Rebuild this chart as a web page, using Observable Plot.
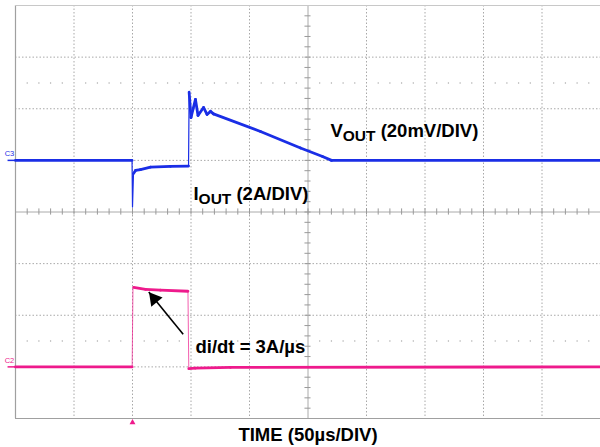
<!DOCTYPE html>
<html><head><meta charset="utf-8">
<script src="https://cdn.jsdelivr.net/npm/d3@7"></script>
<script src="https://cdn.jsdelivr.net/npm/@observablehq/plot@0.6"></script>
<style>body{margin:0;background:#fff}</style>
</head><body><div id="chart"></div>
<script>
// Time axis in microseconds (50 µs/div, trigger at 0)
const vTime = [-100, -0.4, 0, 0.85, 2.6, 6.8, 15.4, 32.5, 47.9, 48.4, 50.0, 53.8, 56.0, 60.7, 63.7, 66.7, 69.2, 109.4, 143.6, 162.4, 170.1, 400];
// VOUT deviation in mV (20 mV/div)
const vOut = [0, 0, -18.1, -5.1, -3.9, -3.6, -2.6, -2.3, -2.2, 26.4, 16.6, 23.6, 17.4, 20.5, 17.8, 19.0, 18.0, 11.2, 4.8, 1.5, 0, 0];
// IOUT in A (2 A/div)
const iTime = [-100, -0.3, 0.4, 1.0, 11.1, 23.9, 47.4, 48.1, 53.8, 83.8, 400];
const iOut = [0, 0, 3.07, 3.08, 3.0, 2.97, 2.93, -0.07, -0.05, -0.02, 0];

const xGrid = [-100, -50, 0, 50, 100, 150, 200, 250, 300, 350, 400];
const yGrid = [-4, -3, -2, -1, 0, 1, 2, 3, 4];
const chLabels = ["C3", "C2"];
const xLabel = "TIME (50µs/DIV)";
const annot = [
  {t: 169.2, d: 1.454, main: "V", sub: "OUT", rest: " (20mV/DIV)"},
  {t: 52.1, d: 0.225, main: "I", sub: "OUT", rest: " (2A/DIV)"},
  {t: 53.8, d: -2.73, main: "di/dt = 3A/µs", sub: "", rest: ""}
];
const arrowPts = [{x1: 43.3, y1: -2.37, x2: 13.9, y2: -1.55}];

const BLUE = "#1a2ee6", PINK = "#ee1a8c";
const FONT = "Liberation Sans, Arial, Helvetica, sans-serif";

// trace rows in divisions: blue offset +1 div, pink offset -3 div
const vRows = vTime.map((t, i) => ({t, d: 1 + vOut[i] / 20}));
const iRows = iTime.map((t, i) => ({t, d: -3 + iOut[i] / 2}));
function segs(rows) {
  const out = [];
  for (let i = 1; i < rows.length; i++) {
    if (rows[i].t - rows[i - 1].t < 1) continue; // steep edges drawn thin only
    out.push({x1: rows[i - 1].t, y1: rows[i - 1].d, x2: rows[i].t, y2: rows[i].d});
  }
  return out;
}

const minorX = d3.range(-100, 401, 10);
const minorY = d3.range(-4, 4.001, 0.2);
const dotRowX = minorX.filter(t => ((t % 50) + 50) % 50 !== 0);
const dotRows = [];
for (const d of [2.5, -2.5]) for (const t of dotRowX) dotRows.push({t, d});

const GRID = "#a8a8a8";

const chart = Plot.plot({
  width: 600, height: 447,
  marginLeft: 15, marginRight: 0, marginTop: 5, marginBottom: 29,
  style: {background: "#fff", fontFamily: FONT},
  x: {domain: [-100, 400], axis: null},
  y: {domain: [-4, 4], axis: null},
  marks: [
    Plot.ruleX(xGrid.filter(t => t !== 150 && t !== -100), {stroke: GRID, strokeDasharray: "1.5,2", strokeWidth: 1}),
    Plot.ruleY(yGrid.filter(d => d !== 0 && d !== -4 && d !== 4), {stroke: GRID, strokeDasharray: "1.5,2", strokeWidth: 1}),
    Plot.ruleX([150], {stroke: "#aaa", strokeWidth: 1}),
    Plot.ruleY([0], {stroke: "#aaa", strokeWidth: 1}),
    Plot.ruleX(minorX, {y1: -0.06, y2: 0.06, stroke: "#999"}),
    Plot.ruleY(minorY, {x1: 147.4, x2: 152.6, stroke: "#999"}),
    Plot.dot(dotRows, {x: "t", y: "d", r: 0.7, fill: "#aaa", stroke: null}),
    Plot.ruleX([-100], {stroke: "#a0a0a0", strokeWidth: 1.2}),
    Plot.ruleY([-4], {stroke: "#a0a0a0", strokeWidth: 1.2}),
    Plot.ruleY([4], {stroke: "#c8c8c8", strokeWidth: 1}),
    // traces
    Plot.line(vRows, {x: "t", y: "d", stroke: BLUE, strokeWidth: 1.2}),
    Plot.link(segs(vRows), {x1: "x1", y1: "y1", x2: "x2", y2: "y2", stroke: BLUE, strokeWidth: 2.8, strokeLinecap: "round"}),
    Plot.line(iRows, {x: "t", y: "d", stroke: PINK, strokeWidth: 1, strokeOpacity: 0.7}),
    Plot.link(segs(iRows), {x1: "x1", y1: "y1", x2: "x2", y2: "y2", stroke: PINK, strokeWidth: 2.8, strokeLinecap: "round"}),
    // channel markers
    Plot.link([{d: 1, c: BLUE}, {d: -3, c: PINK}], {x1: -106.8, x2: -100, y1: "d", y2: "d", stroke: "c", strokeWidth: 1.5}),
    Plot.text([{d: 1, s: chLabels[0], c: BLUE}, {d: -3, s: chLabels[1], c: PINK}], {x: -100, y: "d", text: "s", fill: "c", dx: -6, dy: -4, lineAnchor: "bottom", textAnchor: "middle", fontSize: 7.5, fontFamily: FONT}),
    // trigger marker
    Plot.dot([0], {x: d => d, y: () => -4, dy: 4, symbol: "triangle", r: 2.2, fill: PINK, stroke: null}),
    // annotations
    Plot.text(annot, {x: "t", y: "d", text: d => d.main + d.sub + d.rest, textAnchor: "start", lineAnchor: "bottom", fontSize: 18.5, fontWeight: "bold", fill: "#000", fontFamily: FONT}),
    Plot.link(arrowPts, {x1: "x1", y1: "y1", x2: "x2", y2: "y2", stroke: "#000", strokeWidth: 1.6}),
    Plot.dot(arrowPts, {x: d => d.x2 + (d.x1 - d.x2) * 0.16, y: d => d.y2 + (d.y1 - d.y2) * 0.16, symbol: "triangle", r: 5.4, rotate: -39, fill: "#000", stroke: null}),
    Plot.text([xLabel], {frameAnchor: "bottom", dy: 22.7, lineAnchor: "bottom", fontSize: 18.5, fontWeight: "bold", fill: "#000", fontFamily: FONT})
  ]
});

// subscript styling for the annotation labels
for (const a of annot) {
  if (!a.sub) continue;
  const full = a.main + a.sub + a.rest;
  for (const el of chart.querySelectorAll("text")) {
    if (el.textContent !== full) continue;
    el.textContent = "";
    const s = d3.select(el);
    s.append("tspan").text(a.main);
    s.append("tspan").attr("dy", 4).attr("font-size", 15.5).text(a.sub);
    s.append("tspan").attr("dy", -4).text(a.rest);
  }
}
document.getElementById("chart").appendChild(chart);
</script>
</body></html>
